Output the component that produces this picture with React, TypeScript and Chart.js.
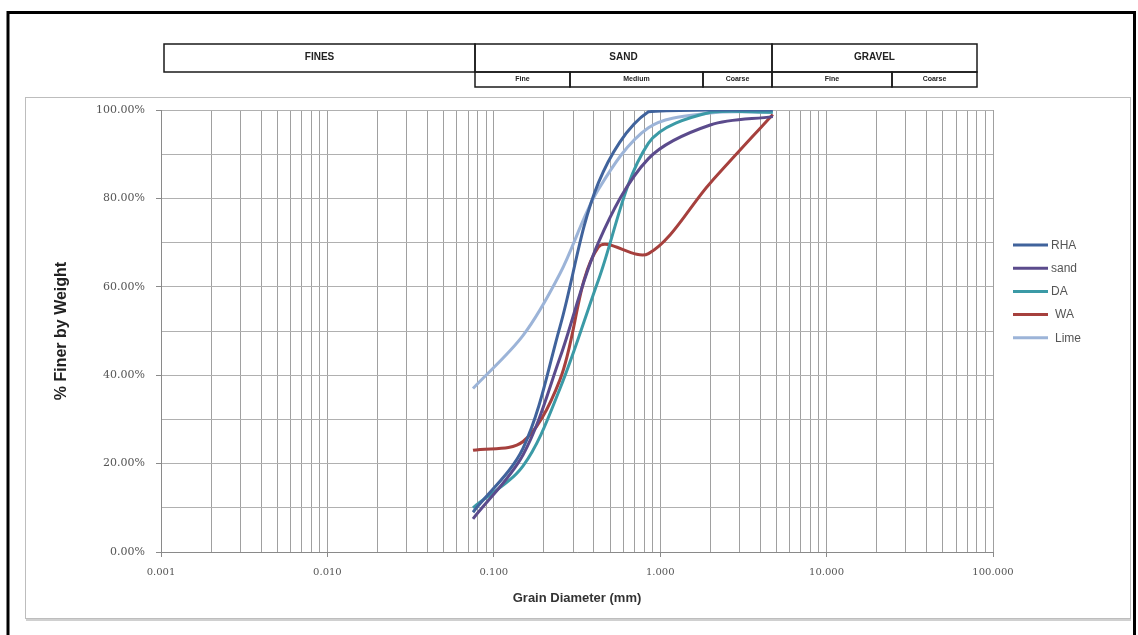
import React, { useEffect, useRef } from 'react';
import { Chart, registerables } from 'chart.js';

Chart.register(...registerables);

// ---------------- data ----------------
const SIEVE_MM = [0.075, 0.15, 0.25, 0.425, 0.85, 2.0, 4.75];
const RHA = [9, 23.5, 51, 83.5, 99.6, 100, 100];
const SAND = [7.5, 22, 44, 70, 89, 96.6, 98.5];
const DA = [10, 19.5, 37, 61.5, 92.5, 99.5, 99.5];
const WA = [23, 25, 39, 69, 67.5, 83.5, 99];
const LIME = [37, 49, 63, 82, 96, 99.3, 99.5];
const SERIES_LABELS = ['RHA', 'sand', 'DA', 'WA', 'Lime'];
const SERIES_VALUES = [RHA, SAND, DA, WA, LIME];

const X_DECADE_TICKS = [0.001, 0.01, 0.1, 1, 10, 100];
const X_MINOR_MULTIPLIERS = [2, 3, 4, 5, 6, 7, 8, 9];
const Y_TICKS = [0, 10, 20, 30, 40, 50, 60, 70, 80, 90, 100];
const Y_LABELLED_TICKS = [0, 20, 40, 60, 80, 100];

const HEADER_GROUPS = ['FINES', 'SAND', 'GRAVEL'];
const HEADER_SUBGROUPS = ['Fine', 'Medium', 'Coarse', 'Fine', 'Coarse'];

const X_TITLE = 'Grain Diameter (mm)';
const Y_TITLE = '% Finer by Weight';

// ---------------- layout / style ----------------
const W = 1138;
const H = 635;
const COLORS = ['#40639c', '#5b4b8c', '#3b9aa6', '#a6403d', '#9cb4d8'];
const HEADER_MAIN_EDGES = [164, 475, 772, 977];
const HEADER_SUB_EDGES = [475, 570, 703, 772, 892, 977];

const isDecade = (v: number) => {
  const l = Math.log10(v);
  return Math.abs(l - Math.round(l)) < 1e-6;
};

const framePlugin = {
  id: 'frame',
  beforeDraw(chart: any) {
    const ctx = chart.ctx;
    ctx.save();
    ctx.fillStyle = '#ffffff';
    ctx.fillRect(0, 0, W, H);
    // inner chart box
    ctx.strokeStyle = '#bdbdbd';
    ctx.lineWidth = 1;
    ctx.strokeRect(25.5, 97.5, 1105, 521);
    ctx.fillStyle = '#d0d0d0';
    ctx.fillRect(26, 619, 1105, 2);
    // outer black frame
    ctx.strokeStyle = '#000000';
    ctx.lineWidth = 3;
    ctx.beginPath();
    ctx.moveTo(8, 640);
    ctx.lineTo(8, 12.5);
    ctx.lineTo(1134.5, 12.5);
    ctx.lineTo(1134.5, 640);
    ctx.stroke();
    ctx.restore();
  },
  afterDraw(chart: any) {
    const ctx = chart.ctx;
    ctx.save();
    // soil classification header
    ctx.strokeStyle = '#1a1a1a';
    ctx.lineWidth = 1.5;
    ctx.fillStyle = '#222';
    ctx.textAlign = 'center';
    ctx.textBaseline = 'middle';
    ctx.font = 'bold 10px "Liberation Sans", Arial, sans-serif';
    for (let i = 0; i < HEADER_GROUPS.length; i++) {
      const x0 = HEADER_MAIN_EDGES[i];
      const x1 = HEADER_MAIN_EDGES[i + 1];
      ctx.strokeRect(x0, 44, x1 - x0, 28);
      ctx.fillText(HEADER_GROUPS[i], (x0 + x1) / 2, 57);
    }
    ctx.font = 'bold 7px "Liberation Sans", Arial, sans-serif';
    for (let i = 0; i < HEADER_SUBGROUPS.length; i++) {
      const x0 = HEADER_SUB_EDGES[i];
      const x1 = HEADER_SUB_EDGES[i + 1];
      ctx.strokeRect(x0, 72, x1 - x0, 15);
      ctx.fillText(HEADER_SUBGROUPS[i], (x0 + x1) / 2, 79.5);
    }
    // legend
    ctx.textAlign = 'left';
    ctx.font = '12px "Liberation Sans", Arial, sans-serif';
    chart.data.datasets.forEach((ds: any, i: number) => {
      const y = 245 + i * 23.2;
      ctx.strokeStyle = ds.borderColor;
      ctx.lineWidth = 3;
      ctx.beginPath();
      ctx.moveTo(1013, y);
      ctx.lineTo(1048, y);
      ctx.stroke();
      ctx.fillStyle = '#555';
      ctx.fillText(ds.label, i >= 3 ? 1055 : 1051, y + 0.5);
    });
    ctx.restore();
  },
};

export default function App() {
  const ref = useRef<HTMLCanvasElement | null>(null);

  useEffect(() => {
    if (!ref.current) return;
    const datasets = SERIES_LABELS.map((label, i) => ({
      label,
      data: SIEVE_MM.map((x, j) => ({ x, y: SERIES_VALUES[i][j] })),
      borderColor: COLORS[i],
      backgroundColor: COLORS[i],
      borderWidth: 3,
      pointRadius: 0,
      tension: 0.33,
      fill: false,
    }));

    const chart = new Chart(ref.current, {
      type: 'line',
      data: { datasets },
      plugins: [framePlugin],
      options: {
        responsive: false,
        animation: false,
        events: [],
        layout: { padding: { left: 0, right: 145, top: 110, bottom: 0 } },
        plugins: { legend: { display: false }, tooltip: { enabled: false }, title: { display: false } },
        scales: {
          x: {
            type: 'logarithmic',
            min: 0.001,
            max: 100,
            afterBuildTicks(scale: any) {
              const ticks: any[] = [];
              for (let d = 0; d < X_DECADE_TICKS.length; d++) {
                const base = X_DECADE_TICKS[d];
                ticks.push({ value: base });
                if (d < X_DECADE_TICKS.length - 1) {
                  X_MINOR_MULTIPLIERS.forEach((m) => ticks.push({ value: +(base * m).toPrecision(6) }));
                }
              }
              scale.ticks = ticks;
            },
            afterFit(scale: any) {
              scale.height = 83;
            },
            ticks: {
              autoSkip: false,
              maxRotation: 0,
              minRotation: 0,
              padding: 9,
              color: '#555',
              font: { family: '"DejaVu Serif", serif', size: 10 },
              callback: (v: any) => (isDecade(Number(v)) ? Number(v).toFixed(3) : ''),
            },
            grid: {
              color: '#a0a0a0',
              lineWidth: 1,
              tickLength: 5,
              tickColor: (ctx: any) => (ctx.tick && isDecade(ctx.tick.value) ? '#8a8a8a' : 'rgba(0,0,0,0)'),
            },
            border: { color: '#8a8a8a', width: 1 },
            title: {
              display: true,
              text: X_TITLE,
              color: '#333',
              font: { family: '"Liberation Sans", Arial, sans-serif', size: 13, weight: 'bold' },
              padding: { top: 0, bottom: 29 },
            },
          },
          y: {
            type: 'linear',
            min: 0,
            max: 100,
            afterBuildTicks(scale: any) {
              scale.ticks = Y_TICKS.map((v) => ({ value: v }));
            },
            afterFit(scale: any) {
              scale.width = 161;
            },
            ticks: {
              autoSkip: false,
              padding: 11,
              color: '#555',
              font: { family: '"DejaVu Serif", serif', size: 11 },
              callback: (v: any) => (Y_LABELLED_TICKS.includes(Number(v)) ? Number(v).toFixed(2) + '%' : ''),
            },
            grid: {
              color: '#b0b0b0',
              lineWidth: 1,
              tickLength: 5,
              tickColor: (ctx: any) =>
                ctx.tick && Y_LABELLED_TICKS.includes(ctx.tick.value) ? '#8a8a8a' : 'rgba(0,0,0,0)',
            },
            border: { color: '#8a8a8a', width: 1 },
            title: {
              display: true,
              text: Y_TITLE,
              color: '#222',
              font: { family: '"Liberation Sans", Arial, sans-serif', size: 16, weight: 'bold' },
              padding: { top: 52, bottom: 0 },
            },
          },
        },
      },
    } as any);

    return () => chart.destroy();
  }, []);

  return (
    <div style={{ position: 'absolute', left: 0, top: 0, width: W, height: H, background: '#fff' }}>
      <canvas ref={ref} width={W} height={H} style={{ display: 'block', width: W, height: H }} />
    </div>
  );
}
